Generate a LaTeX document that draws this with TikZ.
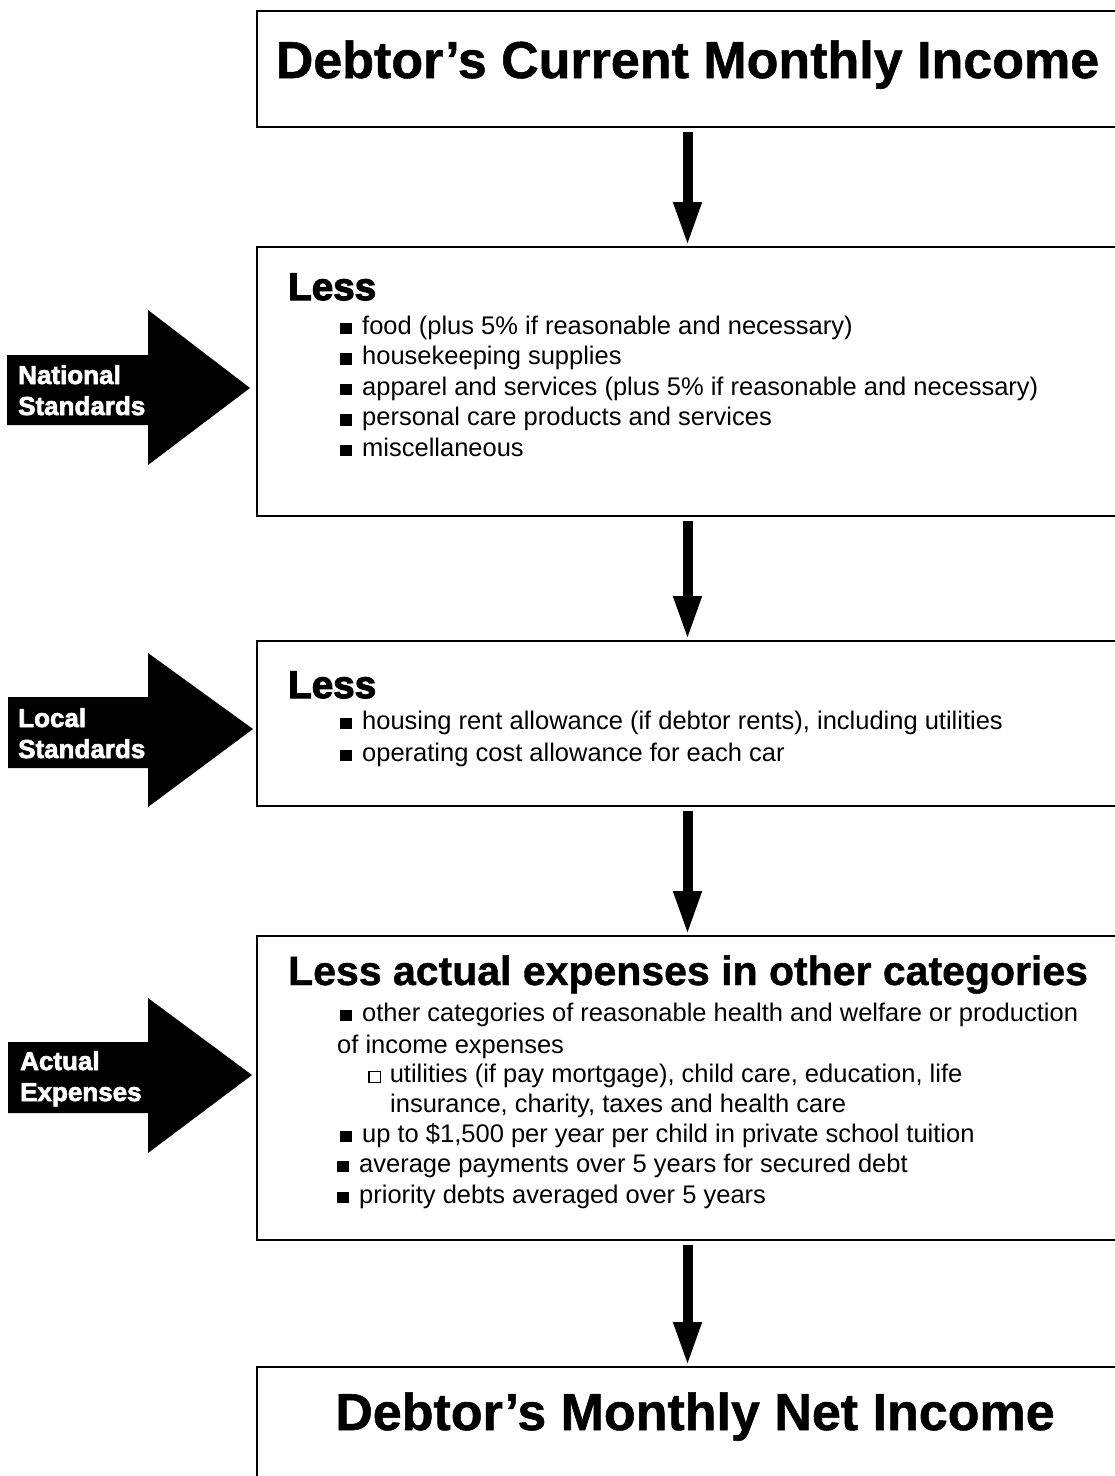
\documentclass[tikz,border=0pt]{standalone}
\usepackage{fontspec}
\setmainfont{Liberation Sans}
\newfontfamily\boldfont[FakeBold=1]{Liberation Sans Bold}
\newfontfamily\heavyfont[FakeBold=3]{Liberation Sans Bold}
\newfontfamily\tagfont[FakeBold=2.5]{Liberation Sans Bold}
\usetikzlibrary{arrows.meta}
\newcommand{\sqbullet}{\rule[0pt]{11.5pt}{11.5pt}\hspace{10.5pt}}
\newcommand{\hollowsq}{\raisebox{0pt}{\setlength{\fboxsep}{0pt}\setlength{\fboxrule}{1.3pt}\fbox{\rule{0pt}{10pt}\hspace{10pt}}}\hspace{9pt}}
\tikzset{
  box/.style={draw, line width=2pt, minimum width=861pt, inner sep=0pt},
  flow/.style={line width=10pt, -{Triangle[width=26pt,length=44pt]}, shorten <=4pt},
  tag/.style={fill=black},
  taglabel/.style={text=white, font=\tagfont\fontsize{26}{31}\selectfont, anchor=base west, inner sep=0pt},
  body/.style={anchor=base west, inner sep=0pt, font=\fontsize{25.5}{30}\selectfont},
  lesshead/.style={anchor=base west, inner sep=0pt, font=\heavyfont\fontsize{38.6}{40}\selectfont},
  bighead/.style={anchor=base, inner sep=0pt, font=\boldfont\fontsize{52}{56}\selectfont},
  midhead/.style={anchor=base west, inner sep=0pt, font=\boldfont\fontsize{41}{44}\selectfont},
}
\begin{document}
\begin{tikzpicture}[x=1pt,y=-1pt]
\useasboundingbox (0,0) rectangle (1115,1476);
\clip (0,0) rectangle (1115,1476);
\fill[white] (0,0) rectangle (1115,1476);

% boxes
\node[box, minimum height=116pt] (inc) at (687.5,69) {};
\node[box, minimum height=269pt] (nat) at (687.5,381.5) {};
\node[box, minimum height=165pt] (loc) at (687.5,723.5) {};
\node[box, minimum height=304pt] (act) at (687.5,1088) {};
\node[box, minimum height=115pt] (net) at (687.5,1424.5) {};

% connectors
\draw[flow] (inc.south) -- (nat.north);
\draw[flow] (nat.south) -- (loc.north);
\draw[flow] (loc.south) -- (act.north);
\draw[flow] (act.south) -- (net.north);

% titles
\node[bighead] (t1) at (687.5,78) {Debtor’s Current Monthly Income};
\node[bighead] (t5) at (695,1430) {Debtor’s Monthly Net Income};

% box 2
\node[lesshead] (l2) at (288,300) {Less};
\node[body] (n1) at (340,334) {\sqbullet food (plus 5\% if reasonable and necessary)};
\node[body] (n2) at (340,364.5) {\sqbullet housekeeping supplies};
\node[body] (n3) at (340,395) {\sqbullet apparel and services (plus 5\% if reasonable and necessary)};
\node[body] (n4) at (340,425.5) {\sqbullet personal care products and services};
\node[body] (n5) at (340,456) {\sqbullet miscellaneous};

% box 3
\node[lesshead] (l3) at (288,698) {Less};
\node[body] (c1) at (340,729) {\sqbullet housing rent allowance (if debtor rents), including utilities};
\node[body] (c2) at (340,761) {\sqbullet operating cost allowance for each car};

% box 4
\node[midhead] (l4) at (288,985) {Less actual expenses in other categories};
\node[body] (a1) at (340,1021) {\sqbullet other categories of reasonable health and welfare or production};
\node[body] (a2) at (337,1053) {of income expenses};
\node[body] (a3) at (368,1082) {\hollowsq utilities (if pay mortgage), child care, education, life};
\node[body] (a4) at (390,1112) {insurance, charity, taxes and health care};
\node[body] (a5) at (340,1142) {\sqbullet up to \$1,500 per year per child in private school tuition};
\node[body] (a6) at (337,1172) {\sqbullet average payments over 5 years for secured debt};
\node[body] (a7) at (337,1203) {\sqbullet priority debts averaged over 5 years};

% left block arrows
\fill[tag] (7,355) -- (148,355) -- (148,310) -- (250,388) -- (148,465) -- (148,425) -- (7,425) -- cycle;
\node[taglabel] (s1a) at (18,384) {National};
\node[taglabel] (s1b) at (18,415) {Standards};

\fill[tag] (8,697) -- (148,697) -- (148,653) -- (253,729) -- (148,807) -- (148,768) -- (8,768) -- cycle;
\node[taglabel] (s2a) at (18,727) {Local};
\node[taglabel] (s2b) at (18,758) {Standards};

\fill[tag] (8,1042) -- (148,1042) -- (148,998) -- (252,1075) -- (148,1153) -- (148,1113) -- (8,1113) -- cycle;
\node[taglabel] (s3a) at (20,1070) {Actual};
\node[taglabel] (s3b) at (20,1101) {Expenses};
\end{tikzpicture}
\end{document}
